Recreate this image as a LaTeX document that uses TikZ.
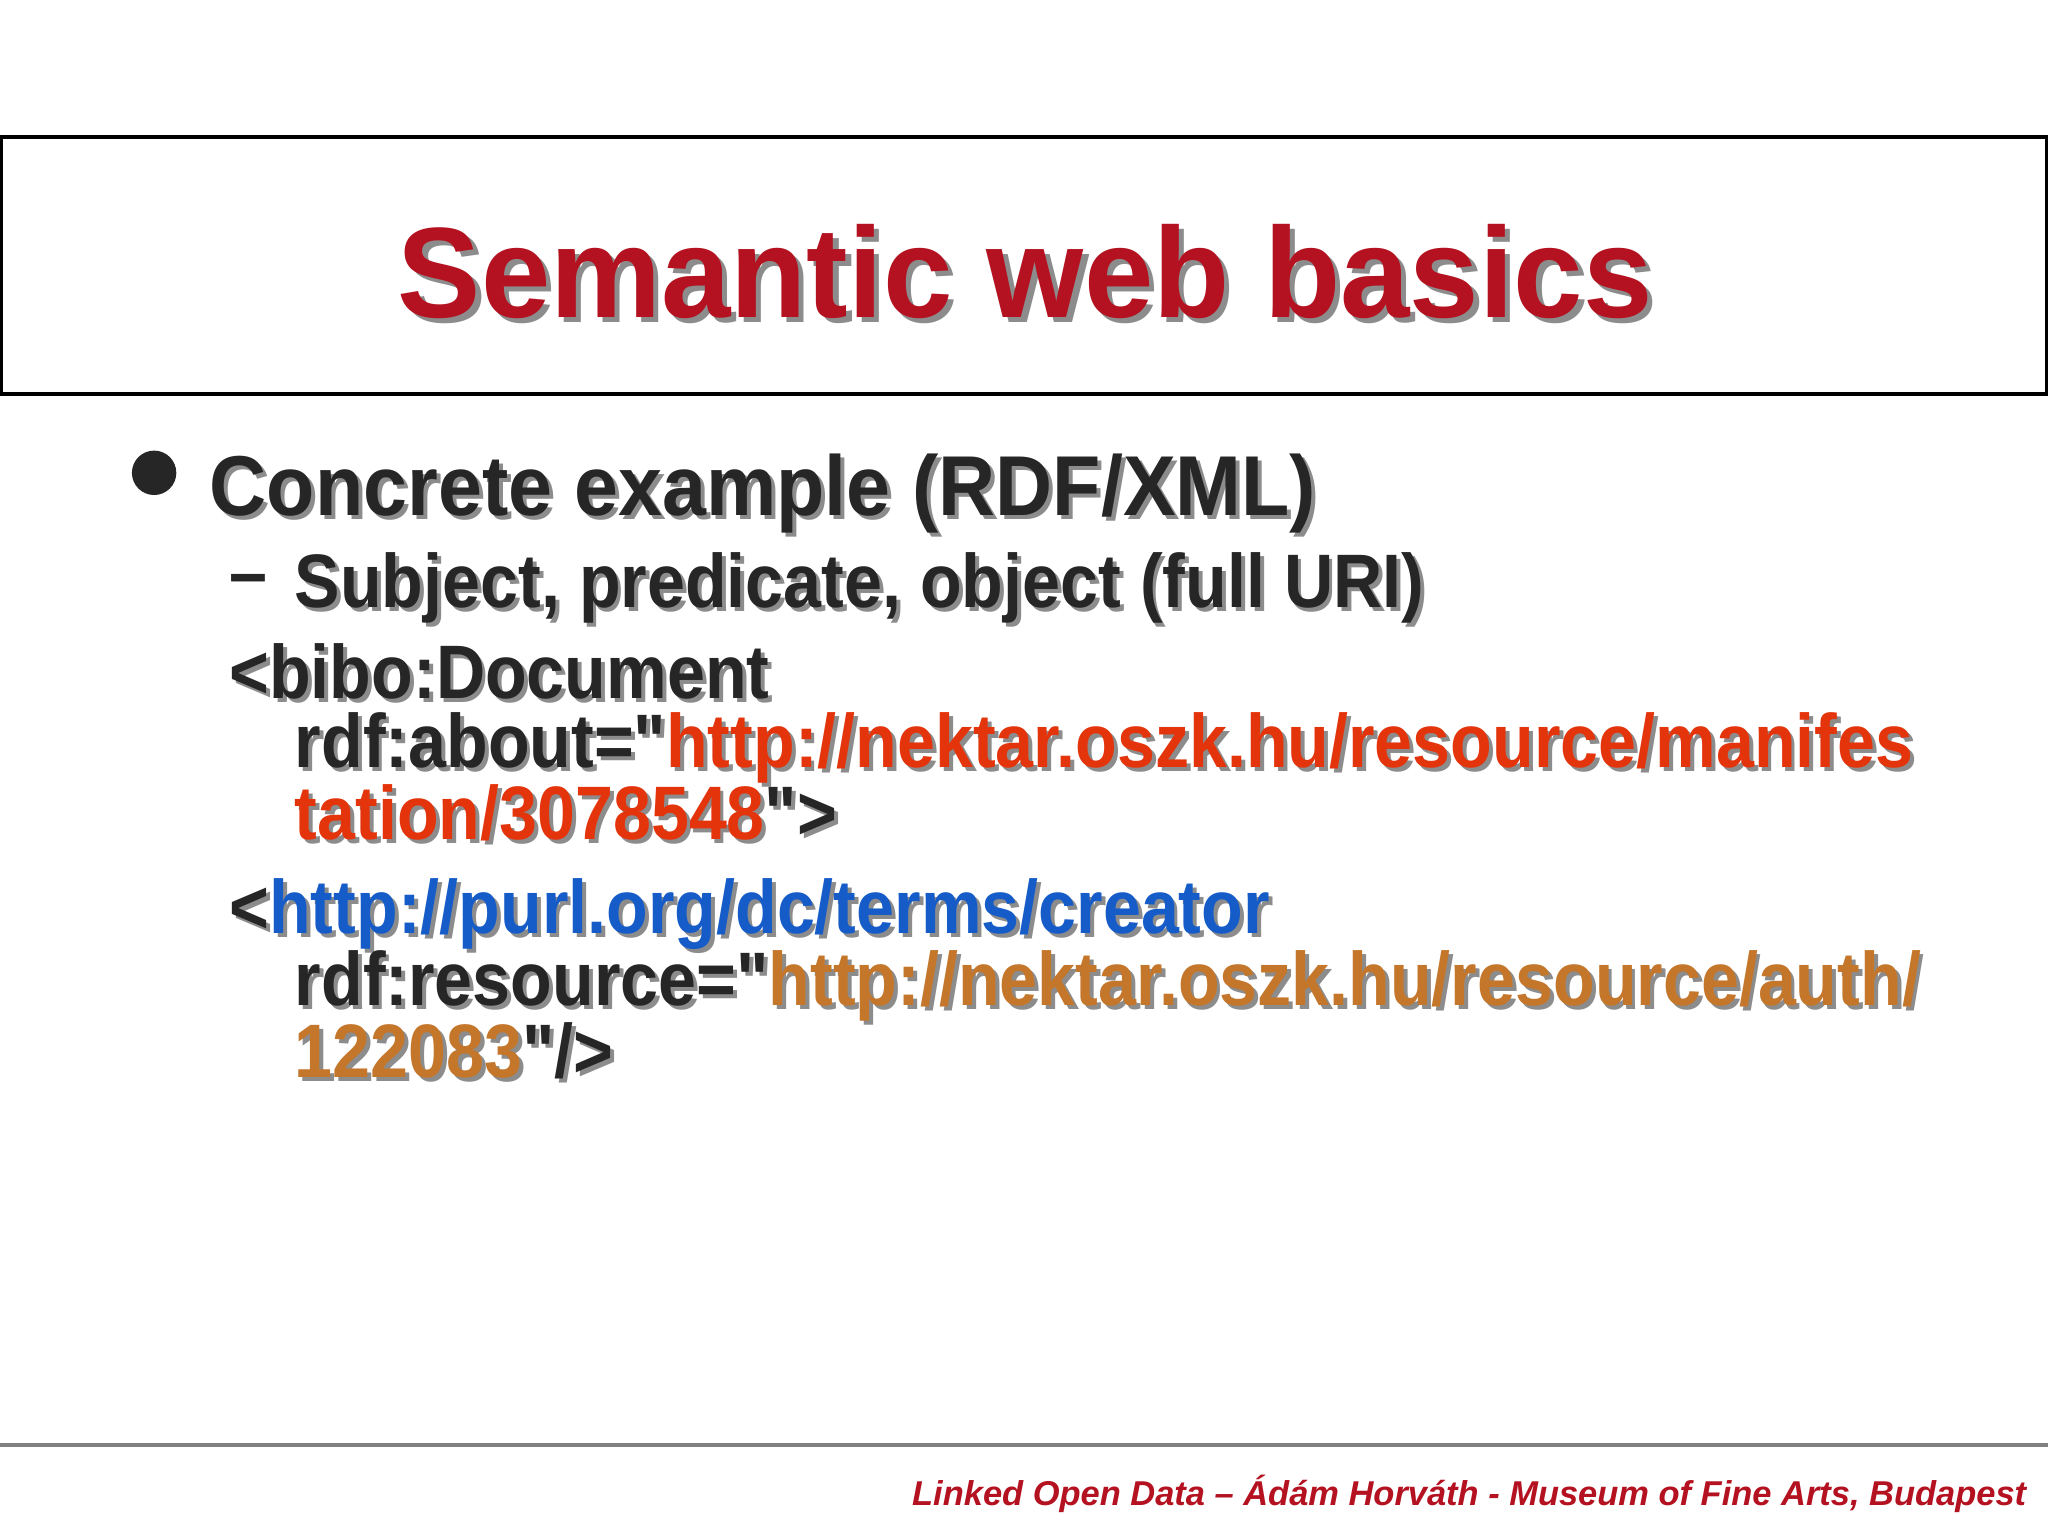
\documentclass[tikz,border=0pt]{standalone}
\usepackage{fontspec}
\setmainfont{Liberation Sans}
\newfontfamily\tf[FakeStretch=0.97]{Liberation Sans}
\newfontfamily\bfa[FakeStretch=0.93]{Liberation Sans}
\newfontfamily\nf[FakeStretch=0.9]{Liberation Sans}
\definecolor{titlered}{RGB}{180,18,32}
\definecolor{txt}{RGB}{38,38,38}
\definecolor{urlred}{RGB}{228,52,12}
\definecolor{urlblue}{RGB}{22,92,200}
\definecolor{urlbrown}{RGB}{196,118,42}
\definecolor{shadowc}{RGB}{140,140,140}
\newif\ifshad
\newcommand\cc[2]{\ifshad\textcolor{shadowc}{#2}\else\textcolor{#1}{#2}\fi}
\newcommand\q{\symbol{34}}
\newcommand\sline[5]{%
 \shadtrue\node[anchor=base west,inner sep=0pt,font=#4] at (#2+3,#3+3) {\cc{txt}{#5}};%
 \shadfalse\node[anchor=base west,inner sep=0pt,font=#4] (#1) at (#2,#3) {\cc{txt}{#5}};}
\begin{document}
\begin{tikzpicture}[x=0.01cm,y=-0.01cm]
\useasboundingbox (0,0) rectangle (1568,1176);
\fill[white] (0,0) rectangle (1568,1176);
\draw[line width=0.85pt,black] (1,105) rectangle (1567,302);
\node[font=\tf\fontsize{28}{32}\selectfont\bfseries,text=shadowc,anchor=base,inner sep=0pt] at (789,247) {Semantic web basics};
\node[font=\tf\fontsize{28}{32}\selectfont\bfseries,text=titlered,anchor=base,inner sep=0pt] (title) at (785,243) {Semantic web basics};
\fill[txt] (118,362) circle (17);
\def\fb{\bfa\fontsize{18.5}{22}\selectfont\bfseries}
\def\fs{\nf\fontsize{16.5}{20}\selectfont\bfseries}
\sline{b1}{160}{395}{\fb}{Concrete example (RDF/XML)}
\node[anchor=base west,inner sep=0pt,font=\fs,text=txt] (dash) at (175,458) {–};
\sline{s1}{225}{465}{\fs}{Subject, predicate, object (full URI)}
\sline{c1}{175}{535}{\fs}{<bibo:Document}
\sline{c2}{225}{588}{\fs}{rdf:about=\q\cc{urlred}{http://nektar.oszk.hu/resource/manifes}}
\sline{c3}{225}{643}{\fs}{\cc{urlred}{tation/3078548}\q>}
\sline{c4}{175}{715}{\fs}{<\cc{urlblue}{http://purl.org/dc/terms/creator}}
\sline{c5}{225}{770}{\fs}{rdf:resource=\q\cc{urlbrown}{http://nektar.oszk.hu/resource/auth/}}
\sline{c6}{225}{825}{\fs}{\cc{urlbrown}{122083}\q/>}
\draw[line width=0.85pt,color=gray] (0,1106) -- (1568,1106);
\node[anchor=base east,inner sep=0pt,font=\fontsize{7.5}{9}\selectfont\bfseries\itshape,text=titlered] (foot) at (1552,1153) {Linked Open Data – Ádám Horváth - Museum of Fine Arts, Budapest};
\end{tikzpicture}
\end{document}
